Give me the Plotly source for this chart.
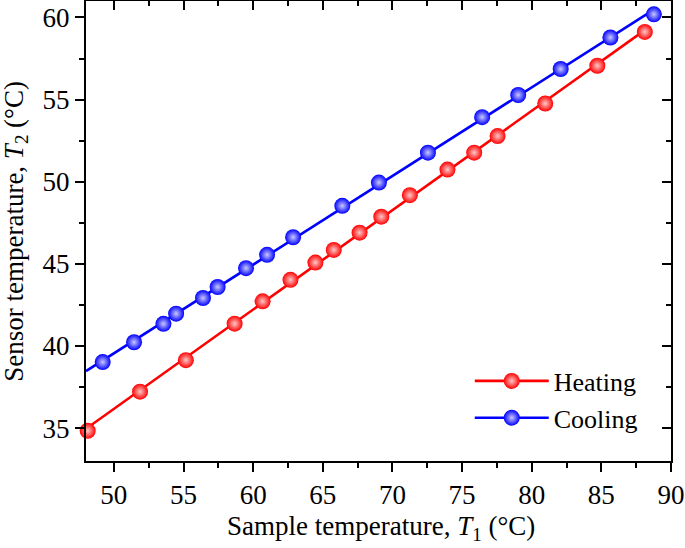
import numpy as np
import plotly.graph_objects as go

# Data
heat_x = [48.12, 51.88, 55.17, 58.67, 60.68, 62.68, 64.47, 65.79, 67.64, 69.20,
          71.25, 73.95, 75.87, 77.55, 80.97, 84.71, 88.12]
heat_y = [34.84, 37.22, 39.14, 41.36, 42.72, 44.03, 45.08, 45.85, 46.90, 47.87,
          49.18, 50.74, 51.77, 52.78, 54.76, 57.06, 59.12]
cool_x = [49.20, 51.45, 53.56, 54.47, 56.40, 57.45, 59.49, 61.00, 62.87, 66.40,
          69.03, 72.55, 76.44, 79.03, 82.08, 85.65, 88.77]
cool_y = [39.02, 40.23, 41.35, 41.97, 42.92, 43.59, 44.74, 45.55, 46.62, 48.53,
          49.95, 51.77, 53.93, 55.28, 56.86, 58.78, 60.19]

x_range = [48, 90]
y_range = [33, 61]
x_ticks = [50, 55, 60, 65, 70, 75, 80, 85, 90]
y_ticks = [35, 40, 45, 50, 55, 60]

FONT = "Liberation Serif"
RED = "rgb(255,0,0)"
BLUE = "rgb(0,0,255)"

fig = go.Figure()


def add_series(xs, ys, name, color, light):
    k, b = np.polyfit(xs, ys, 1)
    fx = np.array([x_range[0], max(xs)])
    mk = dict(size=16, color=color, gradient=dict(type="radial", color=light),
              line=dict(width=0))
    fig.add_trace(go.Scatter(
        x=fx, y=k * fx + b, mode="lines", line=dict(color=color, width=2.6),
        showlegend=False, hoverinfo="skip"))
    fig.add_trace(go.Scatter(
        x=xs, y=ys, mode="markers", name=name, marker=mk,
        showlegend=False, cliponaxis=False))
    # legend entry (line + marker)
    fig.add_trace(go.Scatter(
        x=[None], y=[None], mode="lines+markers", name=name,
        line=dict(color=color, width=2.6), marker=mk))


add_series(heat_x, heat_y, "Heating", RED, "rgb(255,200,200)")
add_series(cool_x, cool_y, "Cooling", BLUE, "rgb(200,200,255)")

# invisible trace for mirror axes
fig.add_trace(go.Scatter(x=[None], y=[None], xaxis="x2", yaxis="y2", showlegend=False))

axis_common = dict(showgrid=False, zeroline=False, linecolor="black", linewidth=2,
                   tickcolor="black", tickwidth=2, automargin=False,
                   tickfont=dict(family=FONT, size=27, color="black"))
minor_out = dict(dtick=2.5, tick0=0, ticks="outside", ticklen=5,
                 tickcolor="black", tickwidth=2)
minor_in = dict(dtick=2.5, tick0=0, ticks="inside", ticklen=5,
                tickcolor="black", tickwidth=2)

fig.update_layout(
    width=685, height=548,
    margin=dict(l=86, r=14, t=1, b=87, autoexpand=False),
    paper_bgcolor="white", plot_bgcolor="white",
    font=dict(family=FONT, color="black"),
    xaxis=dict(range=x_range, tickvals=x_ticks, ticks="outside", ticklen=9,
               showline=True, mirror=True, minor=minor_out, **axis_common),
    yaxis=dict(range=y_range, tickvals=y_ticks, ticks="outside", ticklen=9,
               showline=True, mirror=True, minor=minor_out, **axis_common),
    xaxis2=dict(overlaying="x", side="top", range=x_range, tickvals=x_ticks,
                ticks="inside", ticklen=9, showticklabels=False, showline=False,
                showgrid=False, zeroline=False, tickcolor="black", tickwidth=2,
                automargin=False, minor=minor_in),
    yaxis2=dict(overlaying="y", side="right", anchor="x2", range=y_range, tickvals=y_ticks,
                ticks="inside", ticklen=9, showticklabels=False, showline=False,
                showgrid=False, zeroline=False, tickcolor="black", tickwidth=2,
                automargin=False, minor=minor_in),
    legend=dict(x=0.656, y=0.225, xanchor="left", yanchor="top",
                bgcolor="rgba(0,0,0,0)", itemwidth=74,
                font=dict(family=FONT, size=26, color="black")),
    showlegend=True,
    annotations=[
        dict(text="Sample temperature, <i>T</i><sub>1</sub> (°C)",
             xref="paper", yref="paper", x=0.504, y=-0.146,
             xanchor="center", yanchor="middle", showarrow=False,
             font=dict(family=FONT, size=27, color="black")),
        dict(text="Sensor temperature, <i>T</i><sub>2</sub> (°C)",
             xref="paper", yref="paper", x=-0.12, y=0.5, textangle=-90,
             xanchor="center", yanchor="middle", showarrow=False,
             font=dict(family=FONT, size=27, color="black")),
    ],
)

fig.write_html("out.html", config={"displayModeBar": False},
               post_script="document.body.style.margin='0';")
